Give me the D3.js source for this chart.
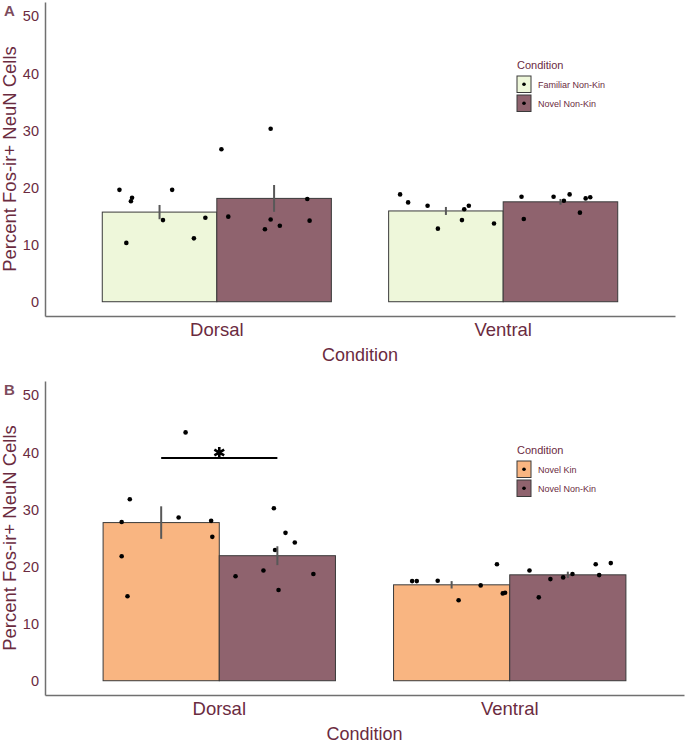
<!DOCTYPE html>
<html>
<head>
<meta charset="utf-8">
<script src="https://cdn.jsdelivr.net/npm/d3@7"></script>
<style>
  body { margin: 0; background: #fff; }
  text { font-family: "Liberation Sans", Arial, sans-serif; }
</style>
</head>
<body>
<script>
// Regions on the x axis
var regions = ["Dorsal", "Ventral"];
var yTicks = [0, 10, 20, 30, 40, 50];

// Panel A: Familiar Non-Kin vs Novel Non-Kin
var groupsA = ["Familiar Non-Kin", "Novel Non-Kin"];
var meansA = { Dorsal: [15.7, 18.1], Ventral: [15.9, 17.5] };
var seA = { Dorsal: [1.25, 2.35], Ventral: [0.7, 0.5] };
var pointsA = {
    "Dorsal|Familiar Non-Kin": [19.6, 18.2, 17.6, 10.3, 19.6, 14.3, 11.1, 14.7],
    "Dorsal|Novel Non-Kin": [30.3, 26.7, 14.9, 14.4, 12.7, 13.3, 18.0, 14.2],
    "Ventral|Familiar Non-Kin": [18.8, 17.4, 16.8, 12.8, 16.2, 16.8, 14.3, 13.7],
    "Ventral|Novel Non-Kin": [18.4, 14.5, 18.4, 18.8, 17.7, 15.6, 18.1, 18.3]
};
// horizontal jitter, as a fraction of bar width
var jitterA = {
    "Dorsal|Familiar Non-Kin": [-0.35, -0.24, -0.25, -0.29, 0.11, 0.03, 0.30, 0.40],
    "Dorsal|Novel Non-Kin": [-0.03, -0.46, -0.40, -0.03, -0.08, 0.05, 0.29, 0.31],
    "Ventral|Familiar Non-Kin": [-0.40, -0.33, -0.16, -0.07, 0.16, 0.20, 0.14, 0.42],
    "Ventral|Novel Non-Kin": [-0.34, -0.32, -0.06, 0.08, 0.03, 0.17, 0.22, 0.26]
};

// Panel B: Novel Kin vs Novel Non-Kin
var groupsB = ["Novel Kin", "Novel Non-Kin"];
var meansB = { Dorsal: [27.7, 21.9], Ventral: [16.8, 18.55] };
var seB = { Dorsal: [2.85, 1.65], Ventral: [0.65, 0.55] };
var pointsB = {
    "Dorsal|Novel Kin": [43.5, 31.8, 27.8, 28.6, 28.0, 25.2, 21.8, 14.8],
    "Dorsal|Novel Non-Kin": [30.2, 25.9, 24.2, 22.9, 18.3, 19.3, 18.7, 15.9],
    "Ventral|Novel Kin": [17.45, 17.45, 17.5, 14.1, 16.7, 20.4, 15.3, 15.4],
    "Ventral|Novel Non-Kin": [19.3, 14.6, 17.8, 18.1, 18.7, 20.4, 18.5, 20.6]
};
var jitterB = {
    "Dorsal|Novel Kin": [0.21, -0.27, -0.34, 0.15, 0.43, 0.44, -0.34, -0.29],
    "Dorsal|Novel Non-Kin": [-0.03, 0.07, 0.15, -0.02, -0.36, -0.12, 0.31, 0.01],
    "Ventral|Novel Kin": [-0.34, -0.30, -0.12, 0.06, 0.25, 0.39, 0.44, 0.46],
    "Ventral|Novel Non-Kin": [-0.33, -0.25, -0.15, -0.04, 0.04, 0.24, 0.27, 0.37]
};
// significance bracket in panel B (Dorsal, between the two groups)
var sigB = { region: "Dorsal", y: 39 };

var fillColors = {
    "Familiar Non-Kin": "#eef7da",
    "Novel Non-Kin": "#8f636e",
    "Novel Kin": "#f9b581"
};
var textColor = "#6b2b3f";
var axisColor = "#707070";

var svg = d3.select("body").append("svg")
    .attr("width", 685)
    .attr("height", 744);

function drawPanel(opts) {
    var g = svg.append("g");

    var x = d3.scaleBand()
        .domain(regions)
        .range([opts.left, opts.right])
        .paddingInner(0.2)
        .paddingOuter(0.2);
    var xSub = d3.scaleBand()
        .domain(opts.groups)
        .range([0, x.bandwidth()]);
    var y = d3.scaleLinear()
        .domain([-2.5, 52.5])
        .range([opts.bottom, opts.top]);

    var bars = [];
    regions.forEach(function (r) {
        opts.groups.forEach(function (grp, i) {
            bars.push({ region: r, group: grp, mean: opts.means[r][i], se: opts.se[r][i] });
        });
    });

    // Bars
    g.selectAll("rect.bar")
        .data(bars)
        .enter().append("rect")
        .attr("class", "bar")
        .attr("x", function (d) { return x(d.region) + xSub(d.group); })
        .attr("y", function (d) { return y(d.mean); })
        .attr("width", xSub.bandwidth())
        .attr("height", function (d) { return y(0) - y(d.mean); })
        .attr("fill", function (d) { return fillColors[d.group]; })
        .attr("stroke", "#3a3a3a")
        .attr("stroke-width", 1);

    // Points
    var pts = [];
    bars.forEach(function (b) {
        var key = b.region + "|" + b.group;
        opts.points[key].forEach(function (v, j) {
            pts.push({ region: b.region, group: b.group, value: v, jit: opts.jitter[key][j] });
        });
    });
    g.selectAll("circle.pt")
        .data(pts)
        .enter().append("circle")
        .attr("class", "pt")
        .attr("cx", function (d) {
            return x(d.region) + xSub(d.group) + xSub.bandwidth() * (0.5 + d.jit);
        })
        .attr("cy", function (d) { return y(d.value); })
        .attr("r", 2.3)
        .attr("fill", "#000");

    // Error bars
    g.selectAll("line.err")
        .data(bars)
        .enter().append("line")
        .attr("class", "err")
        .attr("x1", function (d) { return x(d.region) + xSub(d.group) + xSub.bandwidth() / 2; })
        .attr("x2", function (d) { return x(d.region) + xSub(d.group) + xSub.bandwidth() / 2; })
        .attr("y1", function (d) { return y(d.mean - d.se); })
        .attr("y2", function (d) { return y(d.mean + d.se); })
        .attr("stroke", "#585858")
        .attr("stroke-width", 2);

    // Significance bracket
    if (opts.sig) {
        var xs1 = x(opts.sig.region) + xSub(opts.groups[0]) + xSub.bandwidth() / 2;
        var xs2 = x(opts.sig.region) + xSub(opts.groups[1]) + xSub.bandwidth() / 2;
        g.append("line")
            .attr("x1", xs1).attr("x2", xs2)
            .attr("y1", y(opts.sig.y)).attr("y2", y(opts.sig.y))
            .attr("stroke", "#000")
            .attr("stroke-width", 2);
        g.append("path")
            .attr("transform", "translate(" + ((xs1 + xs2) / 2) + "," + (y(opts.sig.y) - 5.5) + ")")
            .attr("d", d3.symbol(d3.symbolAsterisk, 90)())
            .attr("fill", "none")
            .attr("stroke", "#000")
            .attr("stroke-width", 2.6);
    }

    // Y axis
    var yAxis = g.append("g")
        .attr("transform", "translate(" + opts.left + ",0)")
        .call(d3.axisLeft(y).tickValues(yTicks).tickSize(0).tickSizeOuter(0).tickPadding(6));
    yAxis.select(".domain").attr("stroke", axisColor).attr("stroke-width", 1.5);
    yAxis.selectAll("text")
        .attr("fill", textColor)
        .style("font-size", "14.5px");

    // X axis
    var xAxis = g.append("g")
        .attr("transform", "translate(0," + opts.bottom + ")")
        .call(d3.axisBottom(x).tickSize(0).tickSizeOuter(0).tickPadding(7));
    xAxis.select(".domain").attr("stroke", axisColor).attr("stroke-width", 1.5);
    xAxis.selectAll("text")
        .attr("fill", textColor)
        .style("font-size", "18.5px");

    // Axis titles
    g.append("text")
        .attr("x", (opts.left + opts.right) / 2)
        .attr("y", opts.bottom + 45)
        .attr("text-anchor", "middle")
        .attr("fill", textColor)
        .style("font-size", "18px")
        .text("Condition");
    g.append("text")
        .attr("transform", "translate(16," + ((opts.top + opts.bottom) / 2) + ") rotate(-90)")
        .attr("text-anchor", "middle")
        .attr("fill", textColor)
        .style("font-size", "18.5px")
        .text("Percent Fos-ir+ NeuN Cells");

    // Panel letter
    g.append("text")
        .attr("x", 4)
        .attr("y", opts.top + 14)
        .attr("fill", "#7d4c5d")
        .style("font-size", "15px")
        .style("font-weight", "bold")
        .text(opts.letter);

    // Legend
    var lg = g.append("g")
        .attr("transform", "translate(517," + opts.legendTop + ")");
    lg.append("text")
        .attr("x", 0).attr("y", 9)
        .attr("fill", textColor)
        .style("font-size", "11px")
        .text("Condition");
    opts.groups.forEach(function (grp, i) {
        var ky = 16 + i * 19;
        lg.append("rect")
            .attr("x", 0).attr("y", ky)
            .attr("width", 14).attr("height", 16.5)
            .attr("fill", fillColors[grp])
            .attr("stroke", "#3a3a3a")
            .attr("stroke-width", 1);
        lg.append("circle")
            .attr("cx", 7).attr("cy", ky + 8.25)
            .attr("r", 1.8)
            .attr("fill", "#000");
        lg.append("text")
            .attr("x", 21).attr("y", ky + 11.5)
            .attr("fill", textColor)
            .style("font-size", "9px")
            .text(grp);
    });
}

drawPanel({
    letter: "A", groups: groupsA, means: meansA, se: seA,
    points: pointsA, jitter: jitterA,
    left: 45, right: 675, top: 2, bottom: 316, legendTop: 60
});
drawPanel({
    letter: "B", groups: groupsB, means: meansB, se: seB,
    points: pointsB, jitter: jitterB, sig: sigB,
    left: 45, right: 684, top: 381, bottom: 695, legendTop: 445
});
</script>
</body>
</html>
